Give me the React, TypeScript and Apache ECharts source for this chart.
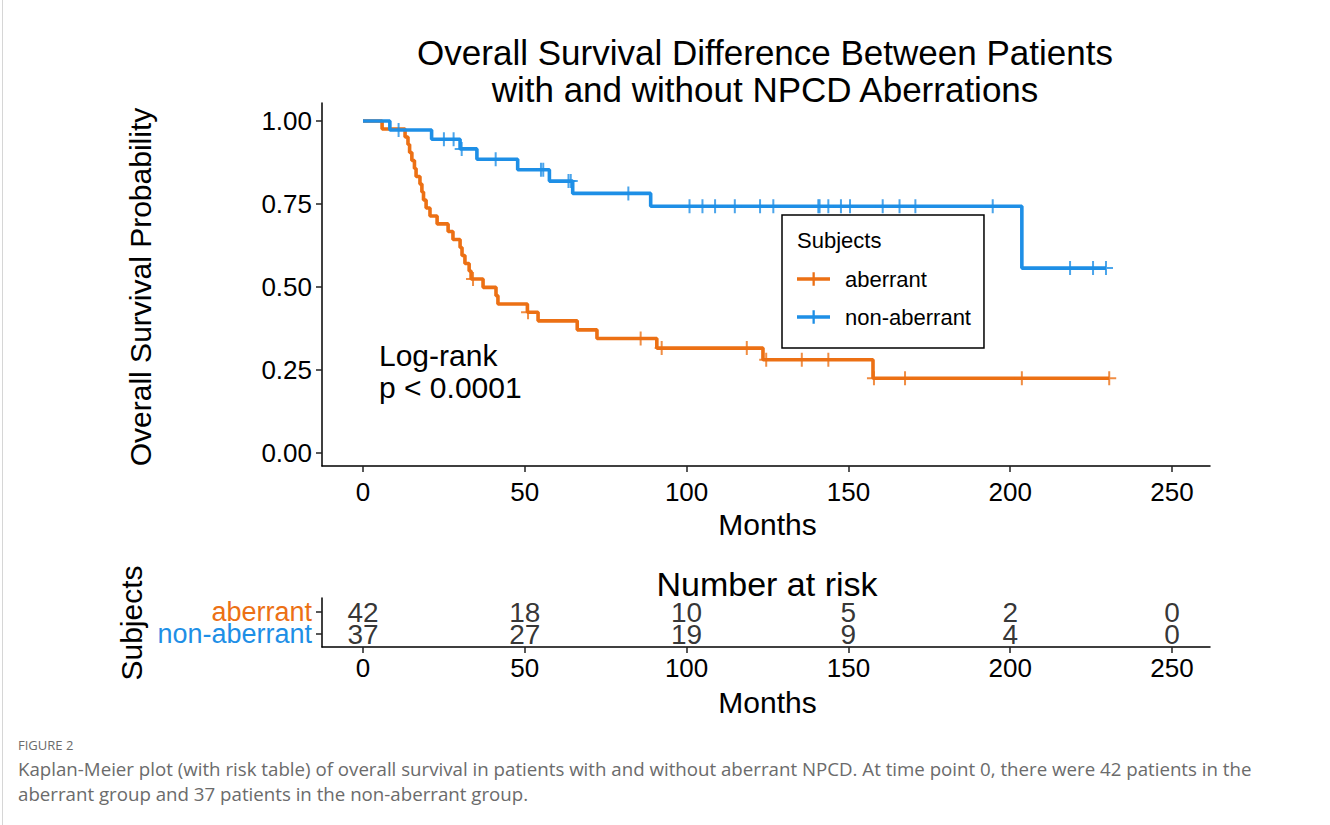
import React, { useEffect, useRef } from "react";
import * as echarts from "echarts";

// ---- Data (time in months, survival probability after each step) ----
const aberrantTimes = [0, 5.9, 13.0, 13.9, 14.4, 15.1, 15.9, 16.4, 17.6, 18.2, 18.7, 19.5, 20.7, 22.9, 26.3, 27.8, 30.0, 30.6, 31.5, 32.8, 33.4, 37.1, 41.1, 41.7, 50.8, 54.1, 66.2, 72.3, 90.8, 123.6, 157.6, 230.6];
const aberrantSurv = [1.0, 0.976, 0.952, 0.929, 0.905, 0.881, 0.857, 0.833, 0.81, 0.786, 0.762, 0.738, 0.714, 0.69, 0.667, 0.643, 0.619, 0.595, 0.571, 0.548, 0.524, 0.499, 0.474, 0.449, 0.424, 0.398, 0.371, 0.345, 0.316, 0.281, 0.225, 0.225];
const aberrantCensor = [34.0, 51.0, 85.8, 92.3, 118.6, 124.6, 135.6, 143.8, 157.9, 167.5, 203.6, 230.6];

const nonAberrantTimes = [0, 8.3, 21.2, 30.0, 35.2, 47.8, 57.6, 64.8, 88.9, 203.6, 229.6];
const nonAberrantSurv = [1.0, 0.973, 0.945, 0.916, 0.885, 0.853, 0.819, 0.782, 0.743, 0.557, 0.557];
const nonAberrantCensor = [11.0, 25.0, 28.0, 30.5, 41.0, 55.0, 55.7, 63.5, 64.2, 82.0, 100.9, 104.9, 108.8, 114.9, 122.7, 126.8, 140.7, 141.1, 143.8, 147.7, 150.5, 160.6, 165.8, 170.7, 194.6, 218.5, 225.6, 229.6];

const riskTimes = [0, 50, 100, 150, 200, 250];
const aberrantRisk = [42, 18, 10, 5, 2, 0];
const nonAberrantRisk = [37, 27, 19, 9, 4, 0];

const groups = ["non-aberrant", "aberrant"]; // bottom to top in the risk table
const yTickInterval = 0.25;
const xTickInterval = 50;

const ORANGE = "#EC7014";
const BLUE = "#1E8FE6";
const FONT = "'Liberation Sans', Arial, Helvetica, sans-serif";
const CAPTION_FONT = "'Open Sans', sans-serif";

const PLUS = "path://M6,0H8V6H14V8H8V14H6V8H0V6H6Z";
const LEGEND_PLUS = "path://M0,5H15.5V0H17.8V5H33V8.5H17.8V13.5H15.5V8.5H0Z";

function levelAt(times: number[], surv: number[], t: number) {
  let s = surv[0];
  for (let i = 0; i < times.length; i++) if (times[i] <= t) s = surv[i];
  return s;
}

function frameAxis(gridIndex: number) {
  return {
    gridIndex,
    type: "value",
    min: 0,
    max: 1,
    axisLine: { show: true, onZero: false, lineStyle: { color: "#000", width: 1.5 } },
    axisTick: { show: false },
    axisLabel: { show: false },
    splitLine: { show: false },
  };
}

const tickStyle = { show: true, length: 6, lineStyle: { color: "#222", width: 1.5 } };

function textEl(text: string, x: number, y: number, fontSize: number, align: string, fill = "#000", family = FONT) {
  return {
    type: "text",
    x,
    y,
    z: 100,
    style: {
      text,
      fontSize,
      fontFamily: family,
      fill,
      align,
      verticalAlign: "middle",
      textAlign: align,
      textVerticalAlign: "middle",
    },
  };
}

function buildOption() {
  const stepData = (ts: number[], ss: number[]) => ts.map((t, i) => [t, ss[i]]);
  const censorData = (cs: number[], ts: number[], ss: number[]) => cs.map((c) => [c, levelAt(ts, ss, c)]);

  return {
    animation: false,
    backgroundColor: "#fff",
    textStyle: { fontFamily: FONT },
    grid: [
      { left: 322, top: 103, width: 888, height: 363 },
      { left: 363, top: 121, width: 809, height: 332 },
      { left: 322, top: 598, width: 888, height: 49 },
      { left: 363, top: 601, width: 809, height: 44 },
    ],
    xAxis: [
      frameAxis(0),
      {
        gridIndex: 1,
        type: "value",
        min: 0,
        max: 250,
        interval: xTickInterval,
        offset: 13,
        axisLine: { show: false, onZero: false },
        axisTick: tickStyle,
        axisLabel: { fontSize: 26, color: "#000", margin: 13, fontFamily: FONT },
        splitLine: { show: false },
        name: "Months",
        nameLocation: "middle",
        nameGap: 43,
        nameTextStyle: { fontSize: 30, color: "#000", fontFamily: FONT },
      },
      frameAxis(2),
      {
        gridIndex: 3,
        type: "value",
        min: 0,
        max: 250,
        interval: xTickInterval,
        offset: 2,
        axisLine: { show: false, onZero: false },
        axisTick: tickStyle,
        axisLabel: { fontSize: 26, color: "#000", margin: 8, fontFamily: FONT },
        splitLine: { show: false },
        name: "Months",
        nameLocation: "middle",
        nameGap: 40,
        nameTextStyle: { fontSize: 30, color: "#000", fontFamily: FONT },
      },
    ],
    yAxis: [
      frameAxis(0),
      {
        gridIndex: 1,
        type: "value",
        min: 0,
        max: 1,
        interval: yTickInterval,
        offset: 41,
        axisLine: { show: false, onZero: false },
        axisTick: tickStyle,
        axisLabel: {
          fontSize: 26,
          color: "#000",
          margin: 10,
          fontFamily: FONT,
          formatter: (v: number) => v.toFixed(2),
        },
        splitLine: { show: false },
        name: "Overall Survival Probability",
        nameLocation: "middle",
        nameRotate: 90,
        nameGap: 167,
        nameTextStyle: { fontSize: 30, color: "#000", fontFamily: FONT },
      },
      frameAxis(2),
      {
        gridIndex: 3,
        type: "category",
        data: groups,
        offset: 41,
        axisLine: { show: false, onZero: false },
        axisTick: { ...tickStyle, alignWithLabel: true, interval: 0 },
        axisLabel: {
          interval: 0,
          hideOverlap: false,
          fontSize: 27,
          lineHeight: 21,
          margin: 10,
          fontFamily: FONT,
          color: (v: string) => (v === "aberrant" ? ORANGE : BLUE),
        },
        splitLine: { show: false },
        name: "Subjects",
        nameLocation: "middle",
        nameRotate: 90,
        nameGap: 170,
        nameTextStyle: { fontSize: 30, color: "#000", fontFamily: FONT },
      },
    ],
    legend: {
      left: 782,
      top: 215,
      orient: "vertical",
      data: [
        { name: "aberrant", icon: LEGEND_PLUS },
        { name: "non-aberrant", icon: LEGEND_PLUS },
      ],
      itemWidth: 33,
      itemHeight: 13.5,
      itemGap: 16,
      padding: [53, 13, 20, 15],
      borderColor: "#000",
      borderWidth: 1.5,
      borderRadius: 0,
      selectedMode: false,
      textStyle: { fontSize: 22, color: "#000", fontFamily: FONT, padding: [0, 0, 0, 10] },
    },
    series: [
      {
        name: "aberrant",
        type: "line",
        xAxisIndex: 1,
        yAxisIndex: 1,
        step: "end",
        data: stepData(aberrantTimes, aberrantSurv),
        symbol: "none",
        showSymbol: false,
        clip: false,
        lineStyle: { color: ORANGE, width: 3.6 },
        itemStyle: { color: ORANGE },
        z: 2,
      },
      {
        name: "non-aberrant",
        type: "line",
        xAxisIndex: 1,
        yAxisIndex: 1,
        step: "end",
        data: stepData(nonAberrantTimes, nonAberrantSurv),
        symbol: "none",
        showSymbol: false,
        clip: false,
        lineStyle: { color: BLUE, width: 3.6 },
        itemStyle: { color: BLUE },
        z: 3,
      },
      {
        name: "aberrant censored",
        type: "scatter",
        xAxisIndex: 1,
        yAxisIndex: 1,
        data: censorData(aberrantCensor, aberrantTimes, aberrantSurv),
        symbol: PLUS,
        symbolSize: 14,
        clip: false,
        itemStyle: { color: ORANGE },
        z: 4,
      },
      {
        name: "non-aberrant censored",
        type: "scatter",
        xAxisIndex: 1,
        yAxisIndex: 1,
        data: censorData(nonAberrantCensor, nonAberrantTimes, nonAberrantSurv),
        symbol: PLUS,
        symbolSize: 14,
        clip: false,
        itemStyle: { color: BLUE },
        z: 5,
      },
      {
        name: "risk",
        type: "scatter",
        xAxisIndex: 3,
        yAxisIndex: 3,
        symbolSize: 1,
        clip: false,
        itemStyle: { color: "rgba(0,0,0,0)" },
        data: [
          ...riskTimes.map((t, i) => [t, groups.indexOf("aberrant"), aberrantRisk[i]]),
          ...riskTimes.map((t, i) => [t, groups.indexOf("non-aberrant"), nonAberrantRisk[i]]),
        ],
        label: {
          show: true,
          position: "inside",
          formatter: (p: any) => String(p.value[2]),
          fontSize: 28,
          lineHeight: 21,
          color: "#000",
          fontFamily: FONT,
        },
        labelLayout: { hideOverlap: false },
      },
    ],
    graphic: [
      {
        type: "line",
        shape: { x1: 2.5, y1: 0, x2: 2.5, y2: 825 },
        style: { stroke: "#d6d6d6", lineWidth: 1 },
        silent: true,
      },
      textEl("Overall Survival Difference Between Patients", 765, 52, 35, "center"),
      textEl("with and without NPCD Aberrations", 765, 89, 35, "center"),
      textEl("Log-rank", 379, 355, 30, "left"),
      textEl("p < 0.0001", 379, 387, 30, "left"),
      textEl("Subjects", 797, 240, 22, "left"),
      textEl("Number at risk", 767, 584, 34, "center"),
      textEl("FIGURE 2", 18, 745, 13, "left", "#6b6b6b", CAPTION_FONT),
      textEl(
        "Kaplan-Meier plot (with risk table) of overall survival in patients with and without aberrant NPCD. At time point 0, there were 42 patients in the",
        18,
        768,
        18.7,
        "left",
        "#6b6b6b",
        CAPTION_FONT
      ),
      textEl("aberrant group and 37 patients in the non-aberrant group.", 18, 793, 18.7, "left", "#6b6b6b", CAPTION_FONT),
    ],
  };
}

export default function App() {
  const ref = useRef<HTMLDivElement>(null);
  useEffect(() => {
    if (!ref.current) return;
    const chart = echarts.init(ref.current, null, { renderer: "svg" });
    chart.setOption(buildOption() as any);
    return () => chart.dispose();
  }, []);
  return (
    <div
      ref={ref}
      style={{ position: "fixed", left: 0, top: 0, width: 1330, height: 825, background: "#fff" }}
    />
  );
}
